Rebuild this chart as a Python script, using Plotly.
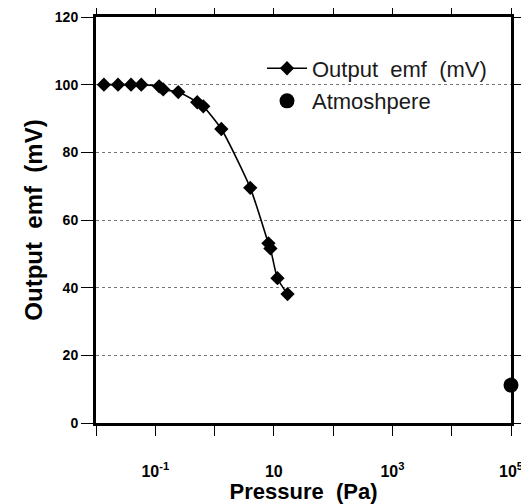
import plotly.graph_objects as go

# Data
pressure_pa = [0.0136, 0.0235, 0.039, 0.058, 0.116, 0.136, 0.244, 0.51, 0.645,
               1.30, 4.0, 8.1, 8.75, 11.5, 17.0]
emf_mv = [100, 100, 100, 100, 99.5, 98.6, 97.8, 94.8, 93.6,
          86.9, 69.5, 53.1, 51.6, 42.8, 38.1]

atm_pressure_pa = [1.0e5]
atm_emf_mv = [11.2]

x_tickvals = [1e-2, 1e-1, 1e0, 1e1, 1e2, 1e3, 1e4, 1e5]
x_ticktext = ["", "10<sup>-1</sup>", "", "10", "", "10<sup>3</sup>", "", "10<sup>5</sup>"]
y_tickvals = [0, 20, 40, 60, 80, 100, 120]

FONT = "Liberation Sans, Arial, sans-serif"

fig = go.Figure()
fig.add_trace(go.Scatter(
    x=pressure_pa, y=emf_mv, mode="lines+markers", name="Output&nbsp;&nbsp;emf&nbsp;&nbsp;(mV)",
    line=dict(color="black", width=1.6, shape="spline", smoothing=0.6),
    marker=dict(symbol="diamond", size=11, color="black"),
    legendgroup="a", cliponaxis=False,
))
fig.add_trace(go.Scatter(
    x=atm_pressure_pa, y=atm_emf_mv, mode="markers", name="Atmoshpere",
    marker=dict(symbol="circle", size=15, color="black"),
    legendgroup="b", cliponaxis=False,
))

# page body has an 8px margin, so the figure is sized to fit the 529x504 window
fig.update_layout(
    width=521, height=496,
    margin=dict(l=88, r=18, t=9, b=81, autoexpand=False),
    paper_bgcolor="white", plot_bgcolor="white",
    font=dict(family=FONT, color="black"),
    showlegend=True,
    legend=dict(x=0.40, y=0.925, xanchor="left", yanchor="top",
                font=dict(size=22, family=FONT, color="#1a1a1a"), bgcolor="rgba(0,0,0,0)",
                tracegroupgap=1, itemwidth=40),
    xaxis=dict(
        type="log", range=[-2, 5], automargin=False,
        tickvals=x_tickvals, ticktext=x_ticktext,
        ticks="outside", ticklen=10, tickwidth=1.2, tickcolor="black",
        showline=True, linewidth=3, linecolor="black", mirror="ticks",
        showgrid=False, zeroline=False,
        tickfont=dict(size=16, family=FONT, weight="bold"),
        ticklabelstandoff=22, ticklabeloverflow="allow",
        title=dict(text="Pressure&nbsp;&nbsp;(Pa)", font=dict(size=22, family=FONT, weight="bold"),
                   standoff=6),
    ),
    yaxis=dict(
        range=[0, 120], tickvals=y_tickvals, automargin=False,
        ticks="outside", ticklen=12, tickwidth=1.2, tickcolor="black",
        showline=True, linewidth=3, linecolor="black", mirror="ticks",
        showgrid=True, gridcolor="#777", gridwidth=1, griddash="dot",
        zeroline=False, ticklabeloverflow="allow",
        tickfont=dict(size=14, family=FONT, weight="bold"),
        title=dict(text="Output&nbsp;&nbsp;emf&nbsp;&nbsp;(mV)",
                   font=dict(size=24, family=FONT, weight="bold"), standoff=6),
    ),
)

fig.write_html("out.html")
